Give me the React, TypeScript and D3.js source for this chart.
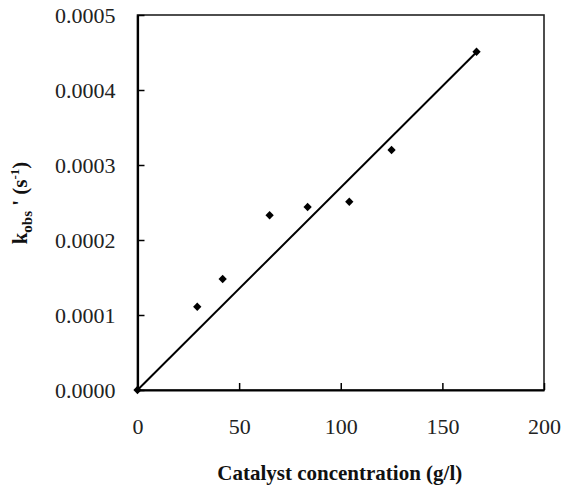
import React, { useEffect, useRef } from 'react'
import * as d3 from 'd3'

// catalyst concentration (g/l) vs k_obs' (s^-1)
const concentration = [0, 29.4, 41.9, 65, 83.7, 104.2, 125, 166.8]
const kobs = [0, 0.000111, 0.000148, 0.000233, 0.000244, 0.000251, 0.00032, 0.000451]
const xTicks = [0, 50, 100, 150, 200]
const yTicks = [0, 0.0001, 0.0002, 0.0003, 0.0004, 0.0005]
const fitSlope = 0.0000027
const fitRange = [0, 167]

const App = () => {
	const ref = useRef<SVGSVGElement>(null)
	const width = 562,
		height = 486

	useEffect(() => {
		const svg = d3.select(ref.current)
		svg.selectAll('*').remove()

		const left = 137.5,
			right = 544,
			top = 15,
			bottom = 390

		const x = d3.scaleLinear().domain([0, 200]).range([left, right])
		const y = d3.scaleLinear().domain([0, 0.0005]).range([bottom, top])

		const font = '"Liberation Serif", "Times New Roman", serif'

		// frame
		svg.append('rect')
			.attr('x', left)
			.attr('y', top)
			.attr('width', right - left)
			.attr('height', bottom - top)
			.attr('fill', 'none')
			.attr('stroke', '#222')
			.attr('stroke-width', 1.6)

		// axes with inward ticks
		const xAxis = svg.append('g')
			.attr('transform', `translate(0,${bottom})`)
			.call(d3.axisBottom(x).tickValues(xTicks).tickSizeInner(-7).tickSizeOuter(0).tickPadding(24))
		xAxis.attr('font-family', null)
		xAxis.select('.domain').attr('stroke', '#000').attr('stroke-width', 2.2)
		xAxis.selectAll('.tick line').attr('stroke-width', 1.5)
		xAxis.selectAll('text')
			.style('font-family', font)
			.style('font-size', '22px')
			.attr('fill', '#222')
			.attr('dy', '0.9em')

		const yAxis = svg.append('g')
			.attr('transform', `translate(${left},0)`)
			.call(d3.axisLeft(y).tickValues(yTicks).tickFormat(d3.format('.4f')).tickSizeInner(-7).tickSizeOuter(0).tickPadding(22))
		yAxis.attr('font-family', null)
		yAxis.select('.domain').attr('stroke', '#000').attr('stroke-width', 2.2)
		yAxis.selectAll('.tick line').attr('stroke-width', 1.5)
		yAxis.selectAll('text')
			.style('font-family', font)
			.style('font-size', '22px')
			.attr('fill', '#222')

		// fitted line
		const line = d3.line<number>()
			.x(d => x(d))
			.y(d => y(d * fitSlope))
		svg.append('path')
			.datum(fitRange)
			.attr('d', line)
			.attr('fill', 'none')
			.attr('stroke', '#000')
			.attr('stroke-width', 2)

		// data points (diamonds)
		const diamond = d3.symbol().type(d3.symbolDiamond2).size(44)
		svg.append('g')
			.selectAll('path')
			.data(concentration)
			.enter()
			.append('path')
			.attr('d', diamond)
			.attr('transform', (d, i) => `translate(${x(d)},${y(kobs[i])})`)
			.attr('fill', '#000')

		// x title
		svg.append('text')
			.attr('x', (left + right) / 2 - 1)
			.attr('y', 480)
			.attr('text-anchor', 'middle')
			.style('font-family', font)
			.attr('font-weight', 'bold')
			.attr('font-size', 21)
			.attr('fill', '#111')
			.text('Catalyst concentration (g/l)')

		// y title
		const yt = svg.append('text')
			.attr('transform', 'translate(27,203) rotate(-90)')
			.attr('text-anchor', 'middle')
			.style('font-family', font)
			.attr('font-weight', 'bold')
			.attr('font-size', 21)
			.attr('fill', '#111')
		yt.append('tspan').text('k')
		yt.append('tspan').attr('font-size', 15).attr('dy', 5).text('obs')
		yt.append('tspan').attr('dy', -5).text(" ' (s")
		yt.append('tspan').attr('font-size', 13).attr('dy', -8).text('-1')
		yt.append('tspan').attr('dy', 8).text(')')
	}, [])

	return (
		<svg
			ref={ref}
			width={width}
			height={height}
			style={{ position: 'absolute', left: 0, top: 0, background: '#fff' }}
		></svg>
	)
}

export default App
